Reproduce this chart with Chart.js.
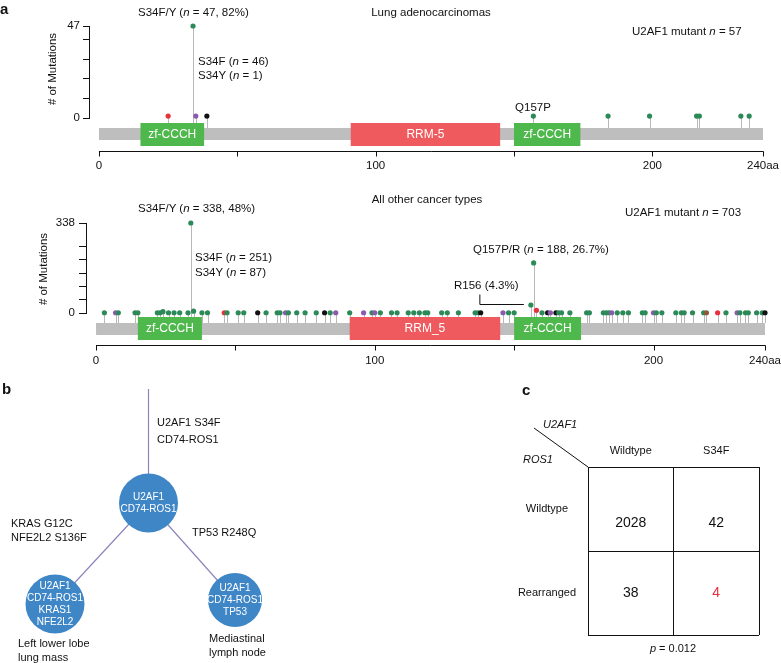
<!DOCTYPE html>
<html>
<head>
<meta charset="utf-8">
<script src="https://cdn.jsdelivr.net/npm/chart.js@4"></script>
<style>
  body { margin: 0; background: #fff; font-family: "Liberation Sans", Arial, sans-serif; color: #111; }
  #wrap { position: relative; width: 781px; height: 663px; overflow: hidden; }
  canvas { position: absolute; }
  .t { position: absolute; white-space: nowrap; font-size: 11.5px; line-height: 13px; }
  .b { font-size: 11px; }
  .p { font-weight: bold; font-size: 15px; }
  .rot { transform: translate(-50%, -50%) rotate(-90deg); }
</style>
</head>
<body>
<div id="wrap">
  <canvas id="lung" width="781" height="180" style="left:0;top:0"></canvas>
  <canvas id="other" width="781" height="190" style="left:0;top:180px"></canvas>
  <canvas id="tree" width="300" height="283" style="left:0;top:380px"></canvas>
  <canvas id="table" width="276" height="283" style="left:505px;top:380px"></canvas>
</div>
<script>
// ---- data ----
const proteinLength = 240;
const domainStart = [15, 91, 150];
const domainEnd = [38, 145, 174];
const domainNamesLung = ['zf-CCCH', 'RRM-5', 'zf-CCCH'];
const domainNamesOther = ['zf-CCCH', 'RRM_5', 'zf-CCCH'];
const xTicks = [0, 50, 100, 150, 200, 240];
const xTickLabels = ['0', '', '100', '', '200', '240aa'];

// lung adenocarcinomas
const lungPos = [25, 34, 35, 39, 157, 184, 199, 216, 217, 232, 235];
const lungCount = [1, 47, 1, 1, 1, 1, 1, 1, 1, 1, 1];
const lungType = ['R', 'M', 'O', 'T', 'M', 'M', 'M', 'M', 'M', 'M', 'M'];
const lungYTicks = [0, 10, 20, 30, 40, 47];

// all other cancer types
const otherPos = [3, 7, 8, 14, 15, 22, 23, 24, 26, 28, 30, 33, 34, 35, 38, 40, 46, 47, 51, 53,
  58, 61, 65, 66, 68, 69, 72, 75, 79, 82, 84, 86, 91, 96, 99, 100, 102, 106, 108, 112,
  114, 116, 118, 119, 124, 126, 130, 136, 137, 138, 146, 148, 150, 156, 157, 158, 160, 162, 163, 165,
  166, 167, 170, 176, 177, 182, 183, 184, 185, 187, 189, 191, 196, 197, 200, 201, 203, 208, 210, 211,
  214, 218, 219, 223, 226, 230, 231, 233, 234, 237, 239, 240];
const otherCount = [1, 1, 1, 1, 1, 1, 1, 5, 1, 1, 1, 1, 338, 7, 1, 1, 1, 1, 1, 1,
  1, 1, 1, 1, 1, 1, 1, 1, 1, 1, 1, 1, 1, 1, 1, 1, 1, 1, 1, 1,
  1, 1, 1, 1, 1, 1, 1, 1, 1, 1, 1, 1, 1, 30, 188, 10, 1, 1, 1, 1,
  1, 1, 1, 1, 1, 1, 1, 1, 1, 1, 1, 1, 1, 1, 1, 1, 1, 1, 1, 1,
  1, 1, 1, 1, 1, 1, 1, 1, 1, 1, 1, 1];
const otherType = ['M', 'O', 'M', 'M', 'M', 'M', 'M', 'M', 'M', 'M', 'M', 'M', 'M', 'M', 'M', 'M', 'R', 'M', 'M', 'M',
  'T', 'M', 'M', 'M', 'O', 'M', 'M', 'M', 'M', 'T', 'M', 'O', 'M', 'O', 'M', 'O', 'M', 'M', 'M', 'M',
  'M', 'M', 'M', 'M', 'M', 'M', 'M', 'M', 'M', 'T', 'O', 'M', 'M', 'M', 'M', 'R', 'M', 'T', 'O', 'T',
  'M', 'M', 'M', 'M', 'M', 'M', 'M', 'M', 'O', 'M', 'M', 'M', 'M', 'M', 'O', 'M', 'M', 'M', 'M', 'M',
  'M', 'M', 'I', 'R', 'M', 'O', 'M', 'M', 'M', 'M', 'M', 'T'];
const otherYTicks = [0, 50, 100, 150, 200, 250, 338];

// panel b: clonal tree (node 0 = trunk start)
const treeX = [14.85, 14.85, 5.5, 23.5];
const treeY = [27.4, 16.0, 5.9, 6.3];
const treeEdges = [[0, 1], [1, 2], [1, 3]];
const nodeLabels = [['U2AF1', 'CD74-ROS1'], ['U2AF1', 'CD74-ROS1', 'KRAS1', 'NFE2L2'], ['U2AF1', 'CD74-ROS1', 'TP53']];

// panel c: contingency table
const u2af1Status = ['Wildtype', 'S34F'];
const ros1Status = ['Wildtype', 'Rearranged'];
const tableCounts = [2028, 42, 38, 4];

const typeColor = { M: '#2b8a57', T: '#111111', O: '#8c5aad', R: '#e8313a', I: '#8b5a3c' };
const FONT = '"Liberation Sans", Arial, sans-serif';

function proteinPlugin(o) {
  return {
    id: 'protein',
    beforeDatasetsDraw(chart) {
      const { ctx, scales: { x, y } } = chart;
      const y0 = y.getPixelForValue(0);
      ctx.save();
      ctx.strokeStyle = '#b8b8b8';
      ctx.lineWidth = 1;
      chart.getDatasetMeta(0).data.forEach(pt => {
        const px = Math.round(pt.x) + 0.5;
        ctx.beginPath();
        ctx.moveTo(px, pt.y);
        ctx.lineTo(px, y0 + o.barTop);
        ctx.stroke();
      });
      const x0 = x.getPixelForValue(0), x1 = x.getPixelForValue(proteinLength);
      ctx.fillStyle = '#bebebe';
      ctx.fillRect(x0, y0 + o.barTop, x1 - x0, 12);
      ctx.font = '12px ' + FONT;
      ctx.textAlign = 'center';
      ctx.textBaseline = 'middle';
      domainStart.forEach((s, i) => {
        const a = x.getPixelForValue(s), b = x.getPixelForValue(domainEnd[i]);
        ctx.fillStyle = o.names[i].startsWith('RRM') ? '#ef5a5e' : '#4fb84c';
        ctx.fillRect(a, y0 + o.domTop, b - a, 23);
        ctx.fillStyle = '#fff';
        ctx.fillText(o.names[i], (a + b) / 2, y0 + o.domTop + 12);
      });
      ctx.restore();
    },
    afterDraw(chart) {
      const { ctx, scales: { x, y } } = chart;
      const y0 = y.getPixelForValue(0);
      const ly = Math.round(y0 + o.axisOff) + 0.5;
      ctx.save();
      ctx.strokeStyle = '#111';
      ctx.lineWidth = 1;
      ctx.beginPath();
      ctx.moveTo(x.getPixelForValue(0), ly);
      ctx.lineTo(x.getPixelForValue(proteinLength) + 0.5, ly);
      xTicks.forEach(v => {
        const px = Math.round(x.getPixelForValue(v)) + 0.5;
        ctx.moveTo(px, ly);
        ctx.lineTo(px, ly + 5);
      });
      ctx.stroke();
      ctx.fillStyle = '#111';
      ctx.font = '11.5px ' + FONT;
      ctx.textAlign = 'center';
      ctx.textBaseline = 'middle';
      xTicks.forEach((v, i) => {
        ctx.fillText(xTickLabels[i], x.getPixelForValue(v), y0 + o.labelOff);
      });
      if (o.leader !== undefined) {
        const pt = chart.getDatasetMeta(0).data[o.leader];
        const yy = Math.round(pt.y) - 0.5;
        ctx.beginPath();
        ctx.moveTo(pt.x - 7, yy);
        ctx.lineTo(pt.x - 51, yy);
        ctx.lineTo(pt.x - 51, yy - 10);
        ctx.stroke();
      }
      ctx.restore();
    }
  };
}

function lollipop(id, pos, count, type, o) {
  new Chart(document.getElementById(id), {
    type: 'scatter',
    data: {
      datasets: [{
        data: pos.map((p, i) => ({ x: p, y: count[i] })),
        pointBackgroundColor: type.map(t => typeColor[t]),
        pointBorderWidth: 0,
        pointRadius: 2.6,
        clip: false
      }]
    },
    options: {
      responsive: false,
      animation: false,
      events: [],
      layout: { autoPadding: false, padding: { top: o.padTop, bottom: o.padBottom, left: 0, right: o.padRight } },
      plugins: { legend: { display: false }, tooltip: { enabled: false } },
      scales: {
        x: { type: 'linear', min: -3.6, max: proteinLength, display: false },
        y: {
          type: 'linear', min: 0, max: o.yMax,
          afterFit: s => { s.width = o.axisX; },
          afterBuildTicks: s => { s.ticks = o.yTicks.map(v => ({ value: v })); },
          ticks: {
            autoSkip: false,
            padding: o.tickPad,
            color: '#111',
            font: { size: 11.5, family: FONT },
            callback: v => (v === 0 || v === o.yMax) ? String(v) : ''
          },
          grid: { drawOnChartArea: false, drawTicks: true, tickLength: o.tickLen, color: '#111' },
          border: { display: true, color: '#111', width: 1 }
        }
      }
    },
    plugins: [proteinPlugin(o)]
  });
}

lollipop('lung', lungPos, lungCount, lungType, {
  yMax: 47, yTicks: lungYTicks, padTop: 26, padBottom: 62, padRight: 18, axisX: 89,
  tickLen: 6, tickPad: 3, names: domainNamesLung,
  barTop: 10, domTop: 5, axisOff: 33, labelOff: 48
});
lollipop('other', otherPos, otherCount, otherType, {
  yMax: 338, yTicks: otherYTicks, padTop: 43, padBottom: 57, padRight: 16, axisX: 86,
  tickLen: 7, tickPad: 4, names: domainNamesOther,
  barTop: 10, domTop: 4, axisOff: 32, labelOff: 48, leader: otherPos.indexOf(156)
});

// ---- panel b ----
const nodeText = {
  id: 'nodeText',
  afterDatasetsDraw(chart) {
    const meta = chart.getDatasetMeta(0);
    const { ctx } = chart;
    ctx.save();
    ctx.fillStyle = '#fff';
    ctx.font = '10px ' + FONT;
    ctx.textAlign = 'center';
    ctx.textBaseline = 'middle';
    meta.data.forEach((pt, i) => {
      const lines = nodeLabels[i];
      lines.forEach((s, k) => ctx.fillText(s, pt.x, pt.y + (k - (lines.length - 1) / 2) * 12));
    });
    ctx.restore();
  }
};
new Chart(document.getElementById('tree'), {
  type: 'scatter',
  data: {
    datasets: [{
      data: [1, 2, 3].map(k => ({ x: treeX[k], y: treeY[k] })),
      pointBackgroundColor: '#3f86c7',
      pointBorderWidth: 0,
      pointRadius: [29.5, 29.5, 27],
      clip: false,
      order: 0
    }].concat(treeEdges.map(e => ({
      type: 'line',
      data: e.map(k => ({ x: treeX[k], y: treeY[k] })),
      borderColor: '#8a86bd',
      borderWidth: 1.2,
      pointRadius: 0,
      order: 1
    })))
  },
  options: {
    responsive: false, animation: false, events: [],
    layout: { autoPadding: false, padding: 0 },
    plugins: { legend: { display: false }, tooltip: { enabled: false } },
    scales: {
      x: { type: 'linear', min: 0, max: 30, display: false },
      y: { type: 'linear', min: 0, max: 28.3, display: false }
    }
  },
  plugins: [nodeText]
});

// ---- panel c ----
const cellText = {
  id: 'cellText',
  afterDraw(chart) {
    const { ctx, chartArea: a } = chart;
    const meta = chart.getDatasetMeta(0);
    ctx.save();
    ctx.font = '14px ' + FONT;
    ctx.textAlign = 'center';
    ctx.textBaseline = 'middle';
    meta.data.forEach((pt, i) => {
      ctx.fillStyle = i === tableCounts.length - 1 ? '#e8313a' : '#111';
      ctx.fillText(String(tableCounts[i]), pt.x, pt.y + (i < 2 ? 14 : 0));
    });
    ctx.strokeStyle = '#111';
    ctx.lineWidth = 1;
    ctx.beginPath();
    ctx.moveTo(a.left - 54, a.top - 39);
    ctx.lineTo(a.left, a.top);
    ctx.stroke();
    ctx.restore();
  }
};
new Chart(document.getElementById('table'), {
  type: 'scatter',
  data: {
    datasets: [{
      data: tableCounts.map((v, i) => ({ x: u2af1Status[i % 2], y: ros1Status[Math.floor(i / 2)] })),
      pointRadius: 0
    }]
  },
  options: {
    responsive: false, animation: false, events: [],
    layout: { autoPadding: false, padding: { top: 0, left: 0, right: 22, bottom: 28 } },
    plugins: { legend: { display: false }, tooltip: { enabled: false } },
    scales: {
      x: {
        type: 'category', labels: u2af1Status, position: 'top', offset: true,
        afterFit: s => { s.height = 87; },
        grid: { offset: true, color: '#111', drawTicks: false },
        border: { color: '#111' },
        ticks: { color: '#111', padding: 9, font: { size: 11, family: FONT } }
      },
      y: {
        type: 'category', labels: ros1Status, offset: true,
        afterFit: s => { s.width = 83; },
        grid: { offset: true, color: '#111', drawTicks: false },
        border: { color: '#111' },
        ticks: { color: '#111', padding: 12, crossAlign: 'center', font: { size: 11, family: FONT } }
      }
    }
  },
  plugins: [cellText]
});

// ---- text labels ----
const wrap = document.getElementById('wrap');
function label(html, x, cy, align, cls) {
  const d = document.createElement('div');
  d.className = 't ' + (cls || '');
  d.innerHTML = html;
  d.style.top = (cy - 6.5) + 'px';
  d.style.left = x + 'px';
  if (align === 'c') d.style.transform = 'translateX(-50%)';
  wrap.appendChild(d);
  return d;
}
function yTitle(x, cy) {
  const d = document.createElement('div');
  d.className = 't rot';
  d.textContent = '# of Mutations';
  d.style.left = x + 'px';
  d.style.top = cy + 'px';
  wrap.appendChild(d);
}
const n = '<i>n</i>';
label('a', 0, 8, 'l', 'p');
label('S34F/Y (' + n + ' = 47, 82%)', 138, 12);
label('Lung adenocarcinomas', 431, 12, 'c');
label('U2AF1 mutant ' + n + ' = 57', 632, 31);
label('S34F (' + n + ' = 46)', 198, 61);
label('S34Y (' + n + ' = 1)', 198, 75);
label('Q157P', 533, 107, 'c');
yTitle(52, 69);

label('All other cancer types', 427, 199, 'c');
label('U2AF1 mutant ' + n + ' = 703', 625, 212);
label('S34F/Y (' + n + ' = 338, 48%)', 138, 208);
label('S34F (' + n + ' = 251)', 195, 257);
label('S34Y (' + n + ' = 87)', 195, 272);
label('Q157P/R (' + n + ' = 188, 26.7%)', 473, 249);
label('R156 (4.3%)', 454, 285);
yTitle(43, 269);

label('b', 2, 388, 'l', 'p');
label('U2AF1 S34F', 157, 422, 'l', 'b');
label('CD74-ROS1', 157, 439, 'l', 'b');
label('KRAS G12C', 11, 523, 'l', 'b');
label('NFE2L2 S136F', 11, 537, 'l', 'b');
label('TP53 R248Q', 192, 532, 'l', 'b');
label('Left lower lobe', 18, 643, 'l', 'b');
label('lung mass', 18, 657, 'l', 'b');
label('Mediastinal', 209, 638, 'l', 'b');
label('lymph node', 209, 652, 'l', 'b');

label('c', 522, 389, 'l', 'p');
label('<i>U2AF1</i>', 543, 424, 'l', 'b');
label('<i>ROS1</i>', 523, 459, 'l', 'b');
label('<i>p</i> = 0.012', 673, 648, 'c', 'b');
</script>
</body>
</html>
